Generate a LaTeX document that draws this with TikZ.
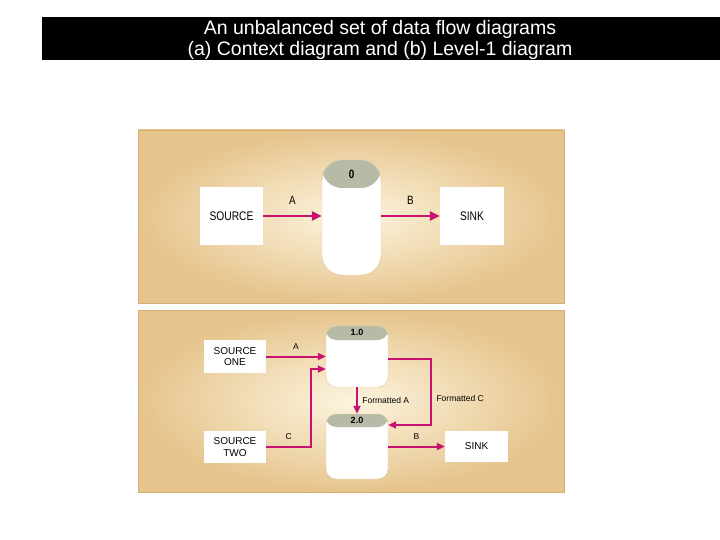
\documentclass[tikz,border=0pt]{standalone}
\usepackage{fontspec}
\setmainfont{Liberation Sans}
\newfontfamily\narrowsans{Liberation Sans}[FakeStretch=0.82]
\usetikzlibrary{arrows.meta,positioning,calc}
\definecolor{flowpink}{RGB}{200,18,112}
\definecolor{hdrgray}{RGB}{182,187,168}
\definecolor{paneledge}{RGB}{214,176,120}
\definecolor{panelin}{RGB}{252,244,222}
\definecolor{panelout}{RGB}{230,196,140}
\definecolor{procedge}{RGB}{220,200,160}
\begin{document}
\begin{tikzpicture}[
  x=1pt, y=-1pt,
  entity/.style={fill=white, inner sep=0pt, align=center},
  process/.style={draw=procedge, line width=0.4pt, fill=white, inner sep=0pt,
    path picture={\fill[hdrgray] (path picture bounding box.north west) rectangle ([yshift=-#1]path picture bounding box.north east);}},
  flow/.style={draw=flowpink, line width=2.6pt, -{Triangle[length=10pt,width=9pt]}},
  sflow/.style={draw=flowpink, line width=2pt, -{Triangle[length=8pt,width=7pt]}},
  panel/.style={draw=paneledge, line width=0.6pt, inner color=panelin, outer color=panelout}
]
  \useasboundingbox (0,0) rectangle (720,540);

  % Titel
  \fill[black] (42,17) rectangle (720,60);
  \node[text=white, align=center, font=\fontsize{19.5}{21}\selectfont] (title) at (380,40)
    {An unbalanced set of data flow diagrams\\(a) Context diagram and (b) Level-1 diagram};

  % (a) Kontextdiagramm
  \shade[panel] (138,130) rectangle (564,303);
  \node[entity, minimum width=63, minimum height=58, font=\narrowsans\fontsize{12.5}{14}\selectfont] (src) at (231.5,216) {SOURCE};
  \node[process=28pt, rounded corners=20pt, minimum width=59, minimum height=115] (proc0) at (351.5,217.5) {};
  \node[font=\narrowsans\bfseries\fontsize{12}{14}\selectfont] (proc0id) at (351.5,174) {0};
  \node[entity, minimum width=64, minimum height=58, font=\narrowsans\fontsize{12.5}{14}\selectfont] (sink) at (472,216) {SINK};

  \draw[flow] (src.east) -- node[midway, above=7pt, font=\narrowsans\fontsize{12}{14}\selectfont] {A} (proc0.west |- src.east);
  \draw[flow] (proc0.east |- sink.west) -- node[midway, above=7pt, font=\narrowsans\fontsize{12}{14}\selectfont] {B} (sink.west);

  % (b) Ebene-1-Diagramm
  \shade[panel] (138,310) rectangle (564,492);
  \node[entity, minimum width=62, minimum height=33, font=\fontsize{10}{11.5}\selectfont] (src1) at (235,356.5) {SOURCE\\ONE};
  \node[entity, minimum width=62, minimum height=32, font=\fontsize{10}{11.5}\selectfont] (src2) at (235,447) {SOURCE\\TWO};
  \node[process=14pt, rounded corners=10pt, minimum width=62, minimum height=61] (p1) at (357,356.5) {};
  \node[font=\bfseries\fontsize{9}{10}\selectfont] (p1id) at (357,332.5) {1.0};
  \node[process=13pt, rounded corners=10pt, minimum width=62, minimum height=65] (p2) at (357,446.5) {};
  \node[font=\bfseries\fontsize{9}{10}\selectfont] (p2id) at (357,420.5) {2.0};
  \node[entity, minimum width=63, minimum height=31, font=\fontsize{10}{11.5}\selectfont] (snk) at (476.5,446.5) {SINK};

  \draw[sflow] (src1.east) -- node[midway, above=3pt, font=\fontsize{8.5}{10}\selectfont] {A} (p1.west);
  \draw[sflow] (src2.east) -- node[midway, above=3pt, font=\fontsize{8.5}{10}\selectfont] {C} ++(45,0) |- ([yshift=-12.5pt]p1.west);
  \draw[sflow] (p1.south) -- node[midway, right=1pt, font=\fontsize{8.5}{10}\selectfont] {Formatted A} (p2.north);
  \draw[sflow] ([yshift=-2.5pt]p1.east) -- ++(43,0) |- node[pos=0.3, right=1pt, font=\fontsize{8.5}{10}\selectfont] {Formatted C} ([yshift=21.5pt]p2.east);
  \draw[sflow] (p2.east) -- node[midway, above=3pt, font=\fontsize{8.5}{10}\selectfont] {B} (snk.west);

\end{tikzpicture}
\end{document}
